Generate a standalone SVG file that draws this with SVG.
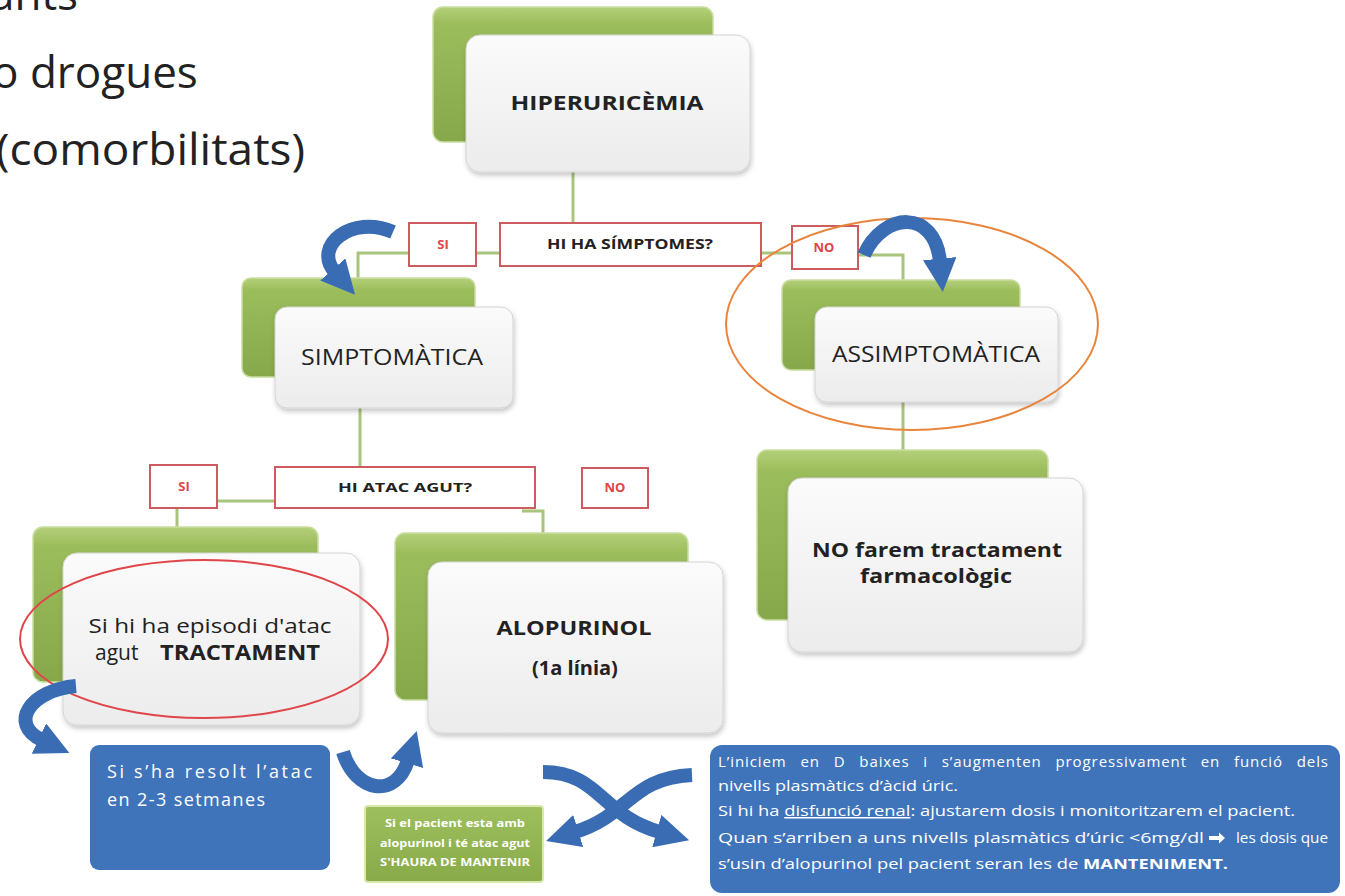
<svg xmlns="http://www.w3.org/2000/svg" width="1345" height="896" viewBox="0 0 1345 896">
<defs>
<linearGradient id="gGreen" x1="0" y1="0" x2="0" y2="1">
<stop offset="0" stop-color="#b4d07a"/>
<stop offset="0.12" stop-color="#9cbd5c"/>
<stop offset="1" stop-color="#86a84a"/>
</linearGradient>
<linearGradient id="gWhite" x1="0" y1="0" x2="0" y2="1">
<stop offset="0" stop-color="#fbfbfb"/>
<stop offset="1" stop-color="#ececec"/>
</linearGradient>
<linearGradient id="gSmall" x1="0" y1="0" x2="0" y2="1">
<stop offset="0" stop-color="#9ebf5e"/>
<stop offset="1" stop-color="#88aa48"/>
</linearGradient>
<filter id="sh" x="-10%" y="-10%" width="130%" height="130%">
<feDropShadow dx="1" dy="3" stdDeviation="2.5" flood-color="#000" flood-opacity="0.22"/>
</filter>
<marker id="ah" viewBox="0 0 10 10" refX="1" refY="5" markerWidth="2.4" markerHeight="2.4" orient="auto">
<path d="M0,0 L10,5 L0,10 z" fill="#3a6cb4"/>
</marker>
<style>
.gb{fill:url(#gGreen);stroke:#c9dea0;stroke-width:1.5}
.wf{fill:url(#gWhite);stroke:#d4d4d4;stroke-width:1;filter:url(#sh)}
.q{fill:#ffffff;stroke:#cd5b60;stroke-width:2}
.con{fill:none;stroke:#a9c47c;stroke-width:3}
.arr{fill:none;stroke:#3a6cb4;stroke-width:14;marker-end:url(#ah)}
.t{font-family:"Open Sans","Liberation Sans",sans-serif;fill:#222222}
.b{font-weight:bold}
.red{font-family:"Open Sans","Liberation Sans",sans-serif;font-weight:bold;fill:#e04545;font-size:13px}
.wt{font-family:"Open Sans","Liberation Sans",sans-serif;fill:#ffffff}
.bl{fill:#3f74ba}
</style>
</defs>

<g id="header-text">
<text class="t" x="-10" y="10" font-size="44" fill="#2b2b2b">ants</text>
<text class="t" x="-8" y="88" font-size="44" fill="#2b2b2b">o drogues</text>
<text class="t" x="-4" y="165" font-size="44" fill="#2b2b2b" textLength="309" lengthAdjust="spacingAndGlyphs">(comorbilitats)</text>
</g>

<g id="connectors">
<path class="con" d="M573 172 V223"/>
<path class="con" d="M476 253 H500"/>
<path class="con" d="M409 253 H358 V280"/>
<path class="con" d="M760 253 H792"/>
<path class="con" d="M858 255 H903 V280"/>
<path class="con" d="M360 408 V467"/>
<path class="con" d="M217 501 H275"/>
<path class="con" d="M177 508 V527"/>
<path class="con" d="M522 511 H543 V533"/>
<path class="con" d="M903 402 V450"/>
</g>

<g id="node-hiperuricemia">
<rect class="gb" x="433" y="7" width="280" height="135" rx="10"/>
<rect class="wf" x="466" y="35" width="284" height="137" rx="14"/>
<text class="t b" x="607" y="110" font-size="20" text-anchor="middle" textLength="193" lengthAdjust="spacingAndGlyphs">HIPERURICÈMIA</text>
</g>

<g id="node-q1">
<rect class="q" x="500" y="223" width="261" height="43"/>
<text class="t b" x="630" y="249" font-size="13.5" text-anchor="middle" textLength="166" lengthAdjust="spacingAndGlyphs">HI HA SÍMPTOMES?</text>
</g>
<g id="node-si1">
<rect class="q" x="409" y="223" width="67" height="43"/>
<text class="red" x="443" y="249" text-anchor="middle">SI</text>
</g>
<g id="node-no1">
<rect class="q" x="792" y="226" width="66" height="43"/>
<text class="red" x="824" y="252" text-anchor="middle">NO</text>
</g>

<g id="node-simptomatica">
<rect class="gb" x="242" y="278" width="233" height="99" rx="9"/>
<rect class="wf" x="275" y="307" width="238" height="101" rx="12"/>
<text class="t" x="392" y="365" font-size="22" text-anchor="middle" textLength="182" lengthAdjust="spacingAndGlyphs">SIMPTOMÀTICA</text>
</g>

<g id="node-assimptomatica">
<rect class="gb" x="782" y="280" width="238" height="90" rx="9"/>
<rect class="wf" x="815" y="307" width="243" height="95" rx="12"/>
<text class="t" x="936" y="362" font-size="22" text-anchor="middle" textLength="208" lengthAdjust="spacingAndGlyphs">ASSIMPTOMÀTICA</text>
</g>

<g id="node-q2">
<rect class="q" x="275" y="467" width="260" height="41"/>
<text class="t b" x="405" y="492" font-size="13" text-anchor="middle" textLength="134" lengthAdjust="spacingAndGlyphs">HI ATAC AGUT?</text>
</g>
<g id="node-si2">
<rect class="q" x="150" y="465" width="67" height="43"/>
<text class="red" x="184" y="491" text-anchor="middle">SI</text>
</g>
<g id="node-no2">
<rect class="q" x="582" y="468" width="66" height="40"/>
<text class="red" x="615" y="492" text-anchor="middle">NO</text>
</g>

<g id="node-tractament">
<rect class="gb" x="33" y="527" width="285" height="155" rx="10"/>
<rect class="wf" x="63" y="553" width="297" height="172" rx="14"/>
<text class="t" x="210" y="633" font-size="20" text-anchor="middle" textLength="243" lengthAdjust="spacingAndGlyphs">Si hi ha episodi d'atac</text>
<text class="t" y="660" font-size="21"><tspan x="95">agut</tspan><tspan x="160" font-weight="bold" textLength="160" lengthAdjust="spacingAndGlyphs">TRACTAMENT</tspan></text>
</g>

<g id="node-alopurinol">
<rect class="gb" x="395" y="533" width="293" height="167" rx="10"/>
<rect class="wf" x="428" y="562" width="295" height="171" rx="14"/>
<text class="t b" x="574" y="635" font-size="20" text-anchor="middle" textLength="155" lengthAdjust="spacingAndGlyphs">ALOPURINOL</text>
<text class="t b" x="575" y="675" font-size="20" text-anchor="middle">(1a línia)</text>
</g>

<g id="node-nofarem">
<rect class="gb" x="757" y="450" width="291" height="170" rx="10"/>
<rect class="wf" x="788" y="478" width="295" height="174" rx="14"/>
<text class="t b" x="937" y="557" font-size="20" text-anchor="middle" textLength="250" lengthAdjust="spacingAndGlyphs">NO farem tractament</text>
<text class="t b" x="936" y="583" font-size="20" text-anchor="middle" textLength="152" lengthAdjust="spacingAndGlyphs">farmacològic</text>
</g>

<g id="node-resolt">
<rect class="bl" x="90" y="745" width="240" height="125" rx="9"/>
<text class="wt" x="107" y="778" font-size="18" textLength="205" lengthAdjust="spacing">Si s’ha resolt l’atac</text>
<text class="wt" x="107" y="806" font-size="18" textLength="158" lengthAdjust="spacing">en 2-3 setmanes</text>
</g>

<g id="node-mantenir">
<rect x="365" y="806" width="178" height="76" rx="3" fill="url(#gSmall)" stroke="#d9e8ae" stroke-width="2"/>
<text class="wt b" x="455" y="827" font-size="10.5" text-anchor="middle" textLength="140" lengthAdjust="spacingAndGlyphs">Si el pacient esta amb</text>
<text class="wt b" x="455" y="847" font-size="10.5" text-anchor="middle" textLength="150" lengthAdjust="spacingAndGlyphs">alopurinol i té atac agut</text>
<text class="wt b" x="455" y="866" font-size="10.5" text-anchor="middle" textLength="150" lengthAdjust="spacingAndGlyphs">S'HAURA DE MANTENIR</text>
</g>

<g id="node-info">
<rect class="bl" x="710" y="745" width="630" height="148" rx="12"/>
<text class="wt" x="718" y="767" font-size="15" word-spacing="9" textLength="610" lengthAdjust="spacing">L’iniciem en D baixes i s’augmenten progressivament en funció dels</text>
<text class="wt" x="718" y="791" font-size="15" textLength="240" lengthAdjust="spacingAndGlyphs">nivells plasmàtics d’àcid úric.</text>
<text class="wt" x="718" y="816" font-size="15" textLength="577" lengthAdjust="spacingAndGlyphs">Si hi ha <tspan text-decoration="underline">disfunció renal</tspan>: ajustarem dosis i monitoritzarem el pacient.</text>
<text class="wt" x="718" y="843" font-size="15" textLength="486" lengthAdjust="spacingAndGlyphs">Quan s’arriben a uns nivells plasmàtics d’úric &lt;6mg/dl</text>
<path d="M1209 836 H1219 V832.5 L1225 838 L1219 843.5 V840 H1209 Z" fill="#ffffff"/>
<text class="wt" x="1328" y="843" font-size="15" text-anchor="end" textLength="92" lengthAdjust="spacingAndGlyphs">les dosis que</text>
<text class="wt" x="718" y="869" font-size="15" textLength="510" lengthAdjust="spacingAndGlyphs">s’usin d’alopurinol pel pacient seran les de <tspan font-weight="bold">MANTENIMENT.</tspan></text>
</g>

<g id="highlights">
<ellipse cx="912" cy="324" rx="186" ry="106" fill="none" stroke="#e8853d" stroke-width="2"/>
<ellipse cx="204" cy="639" rx="184" ry="79" fill="none" stroke="#e0454a" stroke-width="2"/>
</g>

<g id="arrows">
<path class="arr" d="M393 232 C352 214 312 246 335 272"/>
<path class="arr" d="M864 255 C883 212 935 208 940 262"/>
<path class="arr" d="M76 686 C30 690 8 724 42 740"/>
<path class="arr" d="M343 752 C355 792 396 800 408 760"/>
<path class="arr" d="M543 772 C600 772 600 815 660 832"/>
<path class="arr" d="M692 775 C630 778 630 815 575 832"/>
</g>
</svg>
